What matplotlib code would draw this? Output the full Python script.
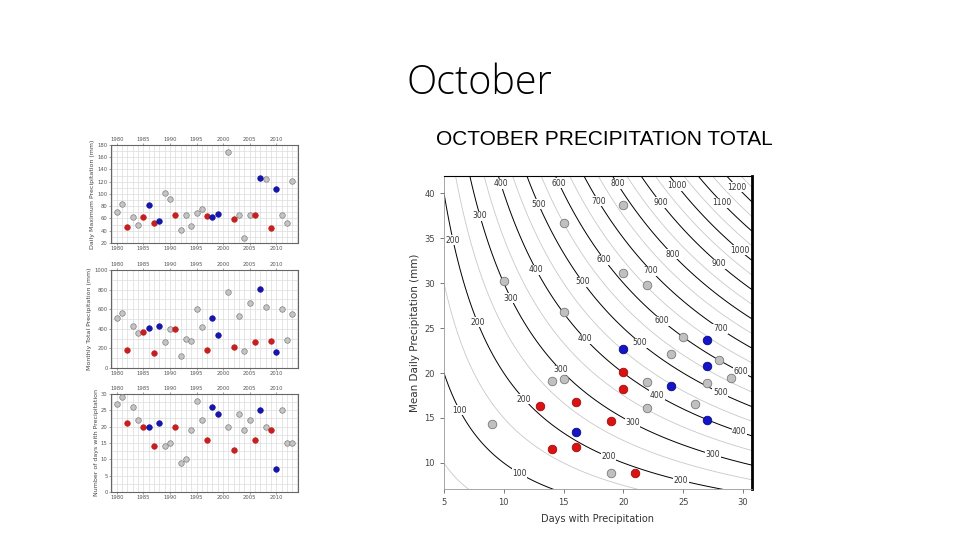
import numpy as np
import matplotlib
matplotlib.use("Agg")
import matplotlib.pyplot as plt

# --- left panels: October series 1980-2013 (2000 not shown) ---
years = [1980, 1981, 1982, 1983, 1984, 1985, 1986, 1987, 1988, 1989,
         1990, 1991, 1992, 1993, 1994, 1995, 1996, 1997, 1998, 1999,
         2001, 2002, 2003, 2004, 2005, 2006, 2007, 2008, 2009, 2010,
         2011, 2012, 2013]
year_class = ['g', 'g', 'r', 'g', 'g', 'r', 'b', 'r', 'b', 'g',
              'g', 'r', 'g', 'g', 'g', 'g', 'g', 'r', 'b', 'b',
              'g', 'r', 'g', 'g', 'g', 'r', 'b', 'g', 'r', 'b',
              'g', 'g', 'g']
max_precip = [71, 83, 46, 62, 48.6, 62, 82.7, 53, 56, 101.6,
              92, 65.4, 40.5, 66.5, 47.6, 69.7, 75.1, 64.3, 63.2, 67,
              168, 59, 66, 28.6, 66, 66, 126, 124, 43.8, 108.6,
              66, 52.4, 121.6]
total_precip = [508, 566, 184, 430, 355, 365, 406, 157, 433, 270,
                403, 403, 126, 300, 276, 604, 420, 188, 508, 334,
                778, 212, 532, 171, 659, 270, 802, 625, 280, 167,
                604, 290, 553]
wet_days = [27, 29, 21, 26, 22, 20, 20, 14, 21, 14,
            15, 20, 9, 10, 19, 28, 22, 16, 26, 24,
            20, 13, 24, 19, 22, 16, 25, 20, 19, 7,
            25, 15, 15]

# --- right panel: days vs mean daily precipitation ---
gray_days = [9, 10, 15, 20, 15, 14, 15, 20, 22, 25, 24, 28, 22, 29, 27, 26, 22, 19]
gray_mean = [14.3, 30.2, 36.7, 38.7, 26.8, 19.1, 19.3, 31.1, 29.8, 24.0,
             22.1, 21.4, 19.0, 19.4, 18.9, 16.6, 16.1, 8.9]
blue_days = [27, 20, 27, 24, 27, 16]
blue_mean = [23.7, 22.7, 20.8, 18.5, 14.8, 13.4]
red_days = [20, 20, 19, 21, 13, 16, 14, 16]
red_mean = [20.1, 18.2, 14.7, 8.9, 16.3, 16.8, 11.5, 11.8]

black_levels = list(range(100, 1400, 100))
gray_levels = list(range(50, 1350, 100))
# where the isoline labels sit (level, days)
label_spots = [(400, 9.75), (600, 14.6), (800, 19.5), (1000, 24.5), (1200, 29.5),
               (500, 12.9), (700, 17.9), (900, 23.1), (1100, 28.25),
               (300, 8.0), (200, 5.75), (400, 12.7), (500, 16.6), (600, 18.4),
               (700, 22.3), (800, 24.1), (900, 28.0), (1000, 29.7), (300, 10.6),
               (200, 7.8), (100, 6.3), (100, 11.3), (200, 11.7), (300, 14.75),
               (400, 16.8), (500, 21.4), (600, 23.25), (700, 28.1), (300, 20.75),
               (200, 18.75), (200, 24.8), (300, 27.5), (400, 29.7), (500, 28.1),
               (600, 29.8), (400, 22.8)]

colors = {'g': '#c4c4c4', 'r': '#c42020', 'b': '#1515a8'}
edges = {'g': '#808080', 'r': '#c42020', 'b': '#1515a8'}

fig = plt.figure(figsize=(9.6, 5.4), dpi=100)

fig.text(0.499, 0.825, "October", ha='center', va='baseline', fontsize=28.5,
         family='Open Sans', fontweight='light', color='black')
fig.text(0.630, 0.731, "OCTOBER PRECIPITATION TOTAL", ha='center', va='baseline',
         fontsize=15, family='Liberation Sans', color='black')

# --- three small time-series panels ---
panels = [
    (0.55, max_precip, (20, 180), 20, 10, "Daily Maximum Precipitation (mm)"),
    (0.3185, total_precip, (0, 1000), 200, 100, "Monthly Total Precipitation (mm)"),
    (0.0889, wet_days, (0, 30), 5, 2.5, "Number of days with Precipitation"),
]
for bottom, values, ylim, major, minor, ylabel in panels:
    ax = fig.add_axes([0.1156, bottom, 0.1948, 0.1815])
    ax.set_xlim(1978.9, 2014.1)
    ax.set_ylim(*ylim)
    ax.set_xticks(range(1980, 2015, 5))
    ax.set_xticks(range(1979, 2015), minor=True)
    ax.set_yticks(np.arange(ylim[0], ylim[1] + 0.1, major))
    ax.set_yticks(np.arange(ylim[0], ylim[1] + 0.1, minor), minor=True)
    ax.grid(which='both', color='#dcdcdc', lw=0.5)
    ax.set_axisbelow(True)
    ax.tick_params(which='both', labelsize=3.8, colors='#555555', length=1.5,
                   width=0.4, pad=1, top=True, labeltop=True)
    ax.tick_params(which='minor', length=0)
    for s in ax.spines.values():
        s.set_color('#666666')
        s.set_linewidth(0.8)
    ax.set_ylabel(ylabel, fontsize=4.5, color='#444444', labelpad=1.5)
    for c in ['g', 'r', 'b']:
        xs = [y for y, k in zip(years, year_class) if k == c]
        vs = [v for v, k in zip(values, year_class) if k == c]
        ax.scatter(xs, vs, s=16, c=colors[c], edgecolors=edges[c],
                   linewidths=0.5, zorder=3)

# --- contour chart ---
ax = fig.add_axes([0.4625, 0.0944, 0.3208, 0.5796])
xlim = (5, 30.75)
ylim = (7.1, 41.9)
gx, gy = np.meshgrid(np.linspace(4, 32, 400), np.linspace(5, 44, 400))
total = gx * gy
ax.contour(gx, gy, total, levels=gray_levels, colors='#c8c8c8', linewidths=0.6)
ax.contour(gx, gy, total, levels=black_levels, colors='black', linewidths=0.7)
for level, d in label_spots:
    ax.text(d, level / d, str(level), ha='center', va='center', fontsize=5.5,
            color='#333333', zorder=4,
            bbox=dict(fc='white', ec='none', pad=0.4))

ax.scatter(gray_days, gray_mean, s=38, c='#c0c0c0', edgecolors='#7a7a7a',
           linewidths=0.6, zorder=5)
ax.scatter(red_days, red_mean, s=38, c='#dd1111', edgecolors='#991111',
           linewidths=0.6, zorder=5)
ax.scatter(blue_days, blue_mean, s=38, c='#1414c8', edgecolors='#0a0a80',
           linewidths=0.6, zorder=5)

ax.set_xlim(*xlim)
ax.set_ylim(*ylim)
ax.set_xticks([5, 10, 15, 20, 25, 30])
ax.set_yticks([10, 15, 20, 25, 30, 35, 40])
ax.tick_params(labelsize=6, colors='#444444', length=3, width=0.5, pad=3.5)
ax.spines['left'].set_color('#999999')
ax.spines['bottom'].set_color('#999999')
ax.spines['left'].set_linewidth(0.6)
ax.spines['bottom'].set_linewidth(0.6)
ax.spines['top'].set_linewidth(0.8)
ax.spines['right'].set_linewidth(2)
ax.set_xlabel("Days with Precipitation", fontsize=7, color='#333333', labelpad=5)
ax.set_ylabel("Mean Daily Precipitation (mm)", fontsize=7.5, color='#333333', labelpad=3)

fig.savefig("out.png", dpi=100)
